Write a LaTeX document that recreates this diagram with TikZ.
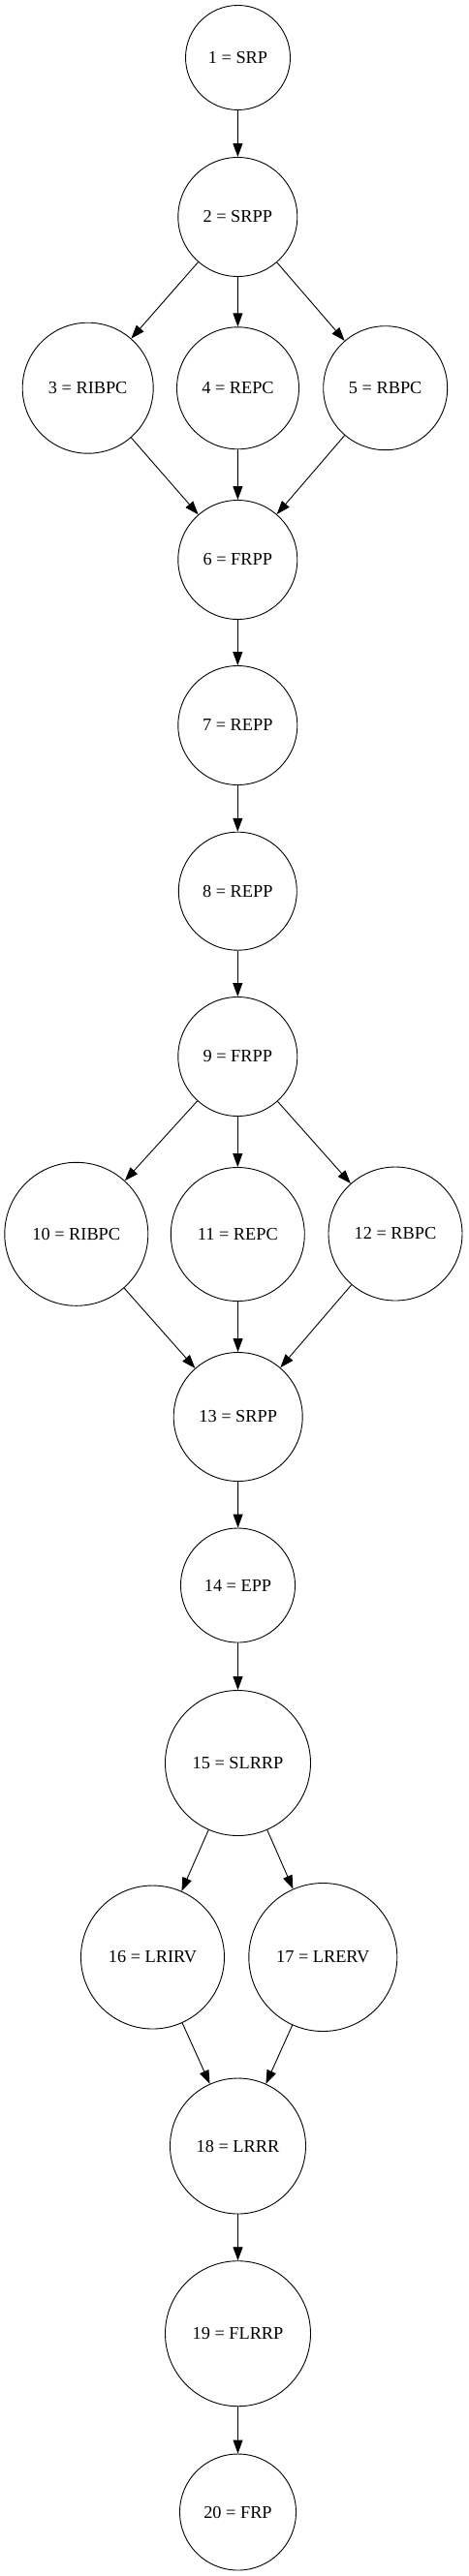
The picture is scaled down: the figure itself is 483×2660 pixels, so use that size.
\documentclass[tikz,border=0pt]{standalone}
\usepackage{fontspec}
\setmainfont{Liberation Serif}
\usepackage{tikz}
\usetikzlibrary{arrows.meta}

\begin{document}
\begin{tikzpicture}[x=1pt,y=-1pt,
	state/.style={draw,circle,line width=0.9pt,inner sep=0pt,font=\fontsize{18.3}{22}\selectfont},
	flow/.style={line width=0.9pt,-{Triangle[length=14pt,width=10pt]}}]
\useasboundingbox (0,0) rectangle (483,2660);

% states, top to bottom
\node[state,minimum size=108pt] (n1) at (245.5,59.5) {1 = SRP};
\node[state,minimum size=123pt] (n2) at (245.3,224) {2 = SRPP};
\node[state,minimum size=135pt] (n3) at (90.7,400.7) {3 = RIBPC};
\node[state,minimum size=126pt] (n4) at (245.5,400.8) {4 = REPC};
\node[state,minimum size=128pt] (n5) at (397.7,400.7) {5 = RBPC};
\node[state,minimum size=123pt] (n6) at (245.3,578) {6 = FRPP};
\node[state,minimum size=123pt] (n7) at (245.3,749) {7 = REPP};
\node[state,minimum size=122pt] (n8) at (245.3,920.2) {8 = REPP};
\node[state,minimum size=123pt] (n9) at (245.3,1091) {9 = FRPP};
\node[state,minimum size=148pt] (n10) at (78.8,1274.3) {10 = RIBPC};
\node[state,minimum size=138pt] (n11) at (245.3,1274.5) {11 = REPC};
\node[state,minimum size=138pt] (n12) at (408,1274) {12 = RBPC};
\node[state,minimum size=133pt] (n13) at (245.7,1463) {13 = SRPP};
\node[state,minimum size=118pt] (n14) at (245.5,1637) {14 = EPP};
\node[state,minimum size=150pt] (n15) at (245.5,1820.5) {15 = SLRRP};
\node[state,minimum size=148pt] (n16) at (157.5,2021) {16 = LRIRV};
\node[state,minimum size=153pt] (n17) at (333.3,2021) {17 = LRERV};
\node[state,minimum size=140pt] (n18) at (245.5,2216) {18 = LRRR};
\node[state,minimum size=150pt] (n19) at (245.5,2409.7) {19 = FLRRP};
\node[state,minimum size=120pt] (n20) at (245.5,2594) {20 = FRP};

% transitions
\foreach \a/\b in {n1/n2, n2/n3, n2/n4, n2/n5, n3/n6, n4/n6, n5/n6,
	n6/n7, n7/n8, n8/n9, n9/n10, n9/n11, n9/n12, n10/n13, n11/n13, n12/n13,
	n13/n14, n14/n15, n15/n16, n15/n17, n16/n18, n17/n18, n18/n19, n19/n20}
	{
	\draw[flow] (\a) -- (\b);
	}
\end{tikzpicture}
\end{document}
